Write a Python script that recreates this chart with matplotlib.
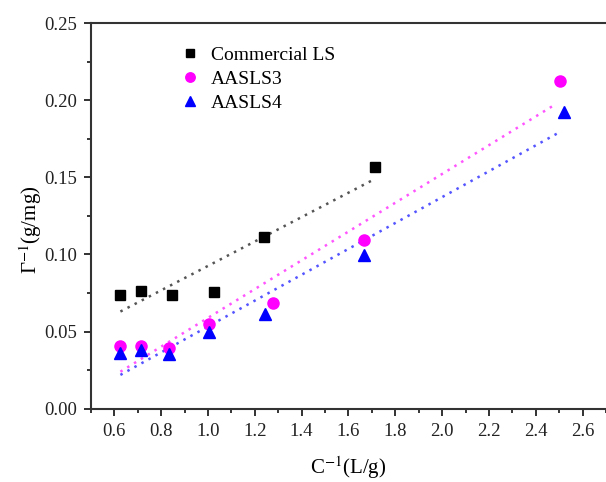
import numpy as np
import matplotlib
matplotlib.use("Agg")
import matplotlib.pyplot as plt
from matplotlib.ticker import MultipleLocator, FormatStrFormatter

plt.rcParams["font.family"] = ["Liberation Serif", "DejaVu Serif"]
plt.rcParams["mathtext.fontset"] = "stix"

# Data
x_ls = [0.626, 0.714, 0.845, 1.025, 1.24, 1.713]
y_ls = [0.0738, 0.0764, 0.0738, 0.0760, 0.1115, 0.1565]

x_s3 = [0.626, 0.714, 0.833, 1.005, 1.276, 1.665, 2.502]
y_s3 = [0.0409, 0.0405, 0.0392, 0.0548, 0.0688, 0.1095, 0.2123]

x_s4 = [0.626, 0.714, 0.833, 1.005, 1.245, 1.668, 2.52]
y_s4 = [0.0360, 0.0380, 0.0355, 0.0500, 0.0615, 0.0998, 0.1922]

# fitted lines (slope, intercept, x range) as drawn in the figure
fit_ls = (0.0791, 0.0135, 0.626, 1.70)
fit_s3 = (0.0933, -0.0344, 0.626, 2.485)
fit_s4 = (0.0839, -0.0306, 0.626, 2.51)

fig = plt.figure(figsize=(6.06, 4.82), dpi=100)
ax = fig.add_axes([0.150, 0.152, 0.850, 0.800])

for (k, b, x0, x1), c in [(fit_ls, "#555555"), (fit_s3, "#ff55ff"), (fit_s4, "#5555ff")]:
    xx = np.array([x0, x1])
    ax.plot(xx, k * xx + b, linestyle=(0, (1, 2.2)), color=c, linewidth=1.8)

ax.plot(x_ls, y_ls, "s", color="black", markersize=6.5, linestyle="none", label="Commercial LS")
ax.plot(x_s3, y_s3, "o", color="#ff00ff", markersize=8, linestyle="none", label="AASLS3")
ax.plot(x_s4, y_s4, "^", color="#0000ff", markersize=8, linestyle="none", label="AASLS4")

ax.set_xlim(0.5, 2.7)
ax.set_ylim(0.0, 0.25)
ax.set_xticks(np.arange(0.6, 2.61, 0.2))
ax.xaxis.set_minor_locator(MultipleLocator(0.1))
ax.yaxis.set_major_locator(MultipleLocator(0.05))
ax.yaxis.set_minor_locator(MultipleLocator(0.025))
ax.xaxis.set_major_formatter(FormatStrFormatter("%.1f"))
ax.yaxis.set_major_formatter(FormatStrFormatter("%.2f"))
ax.tick_params(which="major", direction="out", length=5, width=1.3, labelsize=13.5,
               colors="#222222", pad=5)
ax.tick_params(which="minor", direction="out", length=3, width=1.1)
ax.spines["right"].set_visible(False)
for s in ["left", "bottom", "top"]:
    ax.spines[s].set_linewidth(1.5)
    ax.spines[s].set_color("#333333")

ax.set_xlabel("C$^{-1}$(L/g)", fontsize=15)
ax.xaxis.set_label_coords(0.5, -0.118)
ax.set_ylabel("Γ$^{-1}$(g/mg)", fontsize=15)
ax.yaxis.set_label_coords(-0.092, 0.464)

leg = ax.legend(loc="upper left", bbox_to_anchor=(0.14, 0.985), frameon=False, fontsize=14,
                handletextpad=0.55, labelspacing=0.32, handlelength=1.0, markerscale=0.85)

fig.savefig("out.png", dpi=100)
